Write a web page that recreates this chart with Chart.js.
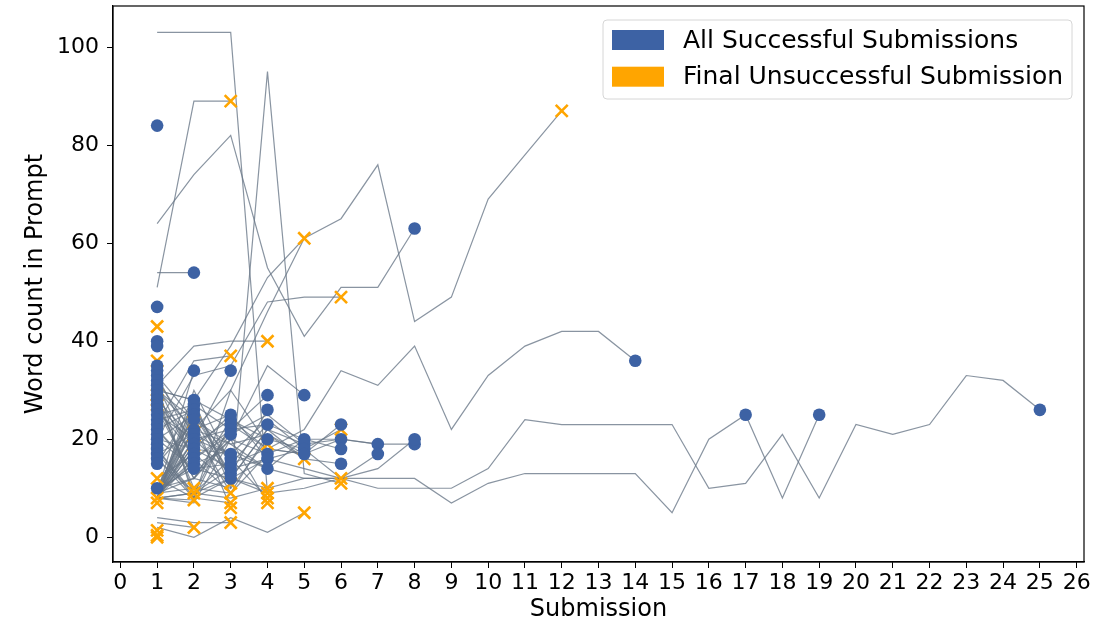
<!DOCTYPE html>
<html>
<head>
<meta charset="utf-8">
<script src="https://cdn.jsdelivr.net/npm/chart.js@4/dist/chart.umd.min.js"></script>
<style>
  body { margin: 0; background: #fff; }
</style>
</head>
<body>
<canvas id="myChart" width="1119" height="626"></canvas>
<script>
// word count of each submission (submission 1, 2, 3, ...) for every participant
// participants whose last submission was successful
const successfulRuns = [
    [8, 9, 8, 10, 12, 12, 10, 10, 10, 14, 24, 23, 23, 23, 23, 10, 11, 21, 8, 23, 21, 23, 33, 32, 26],
    [10, 14, 12, 9, 10, 12, 12, 12, 7, 11, 13, 13, 13, 13, 5, 20, 25, 8, 25],
    [22, 26, 15, 18, 22, 34, 31, 39, 22, 33, 39, 42, 42, 36],
    [64, 74, 82, 55, 41, 51, 51, 63],
    [25, 20, 22, 23, 20, 20, 19, 19],
    [9, 15, 18, 14, 12, 12, 14, 20],
    [30, 24, 19, 21, 17, 20, 19],
    [20, 18, 14, 16, 18, 12, 17],
    [8, 19, 24, 18, 17, 23], [15, 27, 12, 22, 19, 20], [10, 12, 20, 17, 20, 18], [29, 16, 9, 21, 16, 15],
    [22, 13, 20, 35, 29], [8, 22, 19, 14, 20], [26, 12, 21, 25, 19], [8, 28, 10, 20, 18], [18, 8, 23, 18, 17],
    [9, 16, 22, 29], [20, 25, 13, 26], [8, 30, 15, 23], [27, 12, 24, 20], [10, 22, 9, 17], [8, 18, 25, 16], [32, 21, 17, 14],
    [8, 20, 34], [30, 22, 25], [9, 28, 24], [18, 9, 23], [25, 27, 22], [8, 16, 21],
    [33, 18, 17], [10, 25, 16], [22, 14, 15], [8, 9, 14], [28, 20, 13], [12, 8, 12],
    [54, 54], [9, 34], [30, 28], [8, 27], [24, 26], [10, 25], [33, 24], [8, 22], [17, 21],
    [9, 20], [27, 19], [8, 18], [12, 17], [31, 16], [9, 15], [20, 14],
    [84], [47], [40], [39], [35], [34], [33], [32], [31], [30], [29], [28], [27],
    [26], [25], [24], [23], [22], [21], [20], [19], [18], [17], [16], [15], [10]
];

// participants whose last submission was unsuccessful
const failedRuns = [
    [30, 28, 39, 53, 61, 65, 76, 44, 49, 69, 78, 87],
    [20, 33, 35, 48, 49, 49],
    [8, 20, 17, 24, 18, 22], [17, 9, 12, 16, 14, 12], [9, 12, 10, 95, 13, 11],
    [9, 22, 30, 46, 61], [9, 24, 12, 22, 16], [2, 0, 4, 1, 5],
    [103, 103, 103, 9], [31, 39, 40, 40],
    [16, 8, 30, 19], [8, 26, 12, 10], [29, 9, 16, 8], [8, 7, 20, 7],
    [51, 89, 89], [23, 36, 37], [26, 17, 11], [9, 10, 9], [31, 8, 7], [8, 24, 6], [4, 3, 3],
    [15, 23.5], [9, 18.7], [28, 10], [16, 9], [8, 7.6], [3, 2],
    [43], [36], [29], [28], [27], [12], [8], [7], [1.4], [0.4], [0]
];

// successful submissions in the middle of a line
const extraSuccessX = [17];
const extraSuccessY = [25];

const xTicks = [0, 1, 2, 3, 4, 5, 6, 7, 8, 9, 10, 11, 12, 13, 14, 15, 16, 17, 18, 19, 20, 21, 22, 23, 24, 25, 26];
const yTicks = [0, 20, 40, 60, 80, 100];

const seriesLabels = ['All Successful Submissions', 'Final Unsuccessful Submission'];
const blue = '#3d62a4';
const orange = '#ffa500';
const lineGrey = 'rgba(104, 118, 134, 0.78)';


var datasets = [];

// one grey line for every participant
successfulRuns.concat(failedRuns).forEach(function (run) {
    datasets.push({
        data: run.map((y, i) => ({ x: i + 1, y: y })),
        showLine: true,
        borderColor: lineGrey,
        borderWidth: 1.2,
        pointRadius: 0,
        order: 2
    });
});

var successPoints = successfulRuns.map(r => ({ x: r.length, y: r[r.length - 1] }));
for (let i = 0; i < extraSuccessX.length; i++) {
    successPoints.push({ x: extraSuccessX[i], y: extraSuccessY[i] });
}
var failPoints = failedRuns.map(r => ({ x: r.length, y: r[r.length - 1] }));

datasets.push({
    label: seriesLabels[1],
    data: failPoints,
    pointStyle: 'crossRot',
    pointRadius: 8.5,
    borderColor: orange,
    backgroundColor: orange,
    pointBorderWidth: 2.6,
    order: 1
});
datasets.push({
    label: seriesLabels[0],
    data: successPoints,
    pointStyle: 'circle',
    pointRadius: 6.3,
    backgroundColor: blue,
    borderColor: blue,
    pointBorderWidth: 0,
    order: 0
});


// box round the plot and the legend in the upper right corner
const frame = {
    id: 'frame',
    afterDraw(chart) {
        const ctx = chart.ctx;
        const a = chart.chartArea;
        ctx.save();
        ctx.strokeStyle = '#000';
        ctx.lineWidth = 1.2;
        ctx.strokeRect(a.left, a.top, a.right - a.left, a.bottom - a.top);

        const bw = 469, bh = 79;
        const bx = a.right - 12 - bw, by = a.top + 14;
        ctx.beginPath();
        ctx.roundRect(bx, by, bw, bh, 4);
        ctx.fillStyle = 'rgba(255,255,255,0.85)';
        ctx.fill();
        ctx.strokeStyle = '#d6d6d6';
        ctx.lineWidth = 1;
        ctx.stroke();

        const colors = [blue, orange];
        ctx.font = '25px "DejaVu Sans"';
        ctx.textBaseline = 'middle';
        for (let i = 0; i < seriesLabels.length; i++) {
            const cy = by + 20 + i * 36.7;
            ctx.fillStyle = colors[i];
            ctx.fillRect(bx + 9, cy - 10, 52, 20);
            ctx.fillStyle = '#000';
            ctx.fillText(seriesLabels[i], bx + 80, cy + 1);
        }
        ctx.restore();
    }
};

let myChart = document.getElementById("myChart").getContext('2d');

const chart = new Chart(myChart, {
    type: 'scatter',
    data: { datasets: datasets },
    options: {
        responsive: false,
        animation: false,
        events: [],
        layout: { autoPadding: false, padding: { left: 0, right: 35, top: 6, bottom: 0 } },
        scales: {
            x: {
                type: 'linear',
                min: -0.2,
                max: 26.2,
                afterBuildTicks: function (scale) { scale.ticks = xTicks.map(v => ({ value: v })); },
                afterFit: function (scale) {
                    scale.height = 64;
                    scale.paddingLeft = 0;
                    scale.paddingRight = 0;
                },
                grid: { display: true, drawOnChartArea: false, drawTicks: true, tickLength: 6, tickColor: '#000' },
                border: { display: true, color: '#000', width: 1.2 },
                ticks: {
                    autoSkip: false,
                    maxRotation: 0,
                    padding: 2,
                    color: '#000',
                    font: { family: 'DejaVu Sans', size: 22 }
                },
                title: {
                    display: true,
                    text: 'Submission',
                    color: '#000',
                    padding: { top: 0, bottom: 2 },
                    font: { family: 'DejaVu Sans', size: 24 }
                }
            },
            y: {
                type: 'linear',
                min: -5.05,
                max: 108.4,
                afterBuildTicks: function (scale) { scale.ticks = yTicks.map(v => ({ value: v })); },
                afterFit: function (scale) {
                    scale.width = 113;
                    scale.paddingTop = 0;
                    scale.paddingBottom = 0;
                },
                grid: { display: true, drawOnChartArea: false, drawTicks: true, tickLength: 6, tickColor: '#000' },
                border: { display: true, color: '#000', width: 1.2 },
                ticks: {
                    padding: 8,
                    color: '#000',
                    font: { family: 'DejaVu Sans', size: 22 }
                },
                title: {
                    display: true,
                    text: 'Word count in Prompt',
                    color: '#000',
                    padding: { top: 21, bottom: 0 },
                    font: { family: 'DejaVu Sans', size: 24 }
                }
            }
        },
        plugins: {
            legend: { display: false },
            tooltip: { enabled: false }
        }
    },
    plugins: [frame]
});
</script>
</body>
</html>
